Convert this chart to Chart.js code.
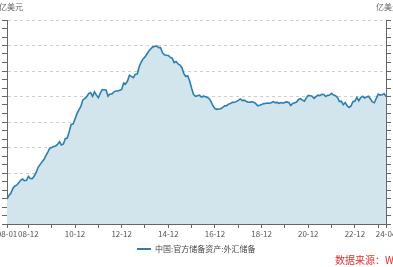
<!DOCTYPE html>
<html><head><meta charset="utf-8">
<script src="https://cdn.jsdelivr.net/npm/chart.js@4.4.1/dist/chart.umd.min.js"></script>
<style>html,body{margin:0;padding:0;background:#fff}#wrap{width:393px;height:267px;position:relative}</style>
</head><body><div id="wrap"><canvas id="c"></canvas></div>
<script>
const months = [];
for (let y = 2008; y <= 2024; y++) for (let m = 1; m <= 12; m++) { if (y === 2024 && m > 4) break; months.push(String(y % 100).padStart(2,'0') + '-' + String(m).padStart(2,'0')); }
const reserves = [
15898,16471,16822,17567,17970,18088,18452,18842,19056,18797,18847,19460,
19135,19121,19537,20089,20895,21316,21745,22108,22726,23283,23888,23992,
24152,24246,24471,24905,24395,24543,25384,25478,26483,27609,27678,28473,
29317,29914,30447,31462,31662,31975,32453,32626,32017,32738,32209,31811,
32536,33097,33050,32986,32061,32400,32400,32729,32851,32874,32970,33116,
34100,33954,34426,35345,35148,34967,35478,35530,36627,37366,37895,38213,
38664,39137,39481,39788,39840,39932,39663,39688,38877,38529,38474,38430,
38134,38015,37300,37481,37111,36938,36513,35574,35141,35255,34384,33304,
32309,32023,32126,32197,31917,32052,32011,31852,31664,31207,30516,30105,
29982,30051,30091,30295,30536,30568,30807,30915,31085,31092,31193,31399,
31615,31345,31428,31249,31106,31121,31179,31097,30870,30531,30617,30727,
30879,30902,30988,30950,31010,31192,31037,31072,30924,31052,30956,31079,
31155,31067,30606,30915,31017,31123,31544,31646,31426,31280,31785,32165,
32107,32049,31700,31982,32218,32140,32359,32321,32006,32176,32224,32502,
32216,32138,31880,31197,31278,30713,31041,30549,30290,30524,31175,31277,
31845,31332,31839,32048,31765,31930,32043,31601,31151,31012,31718,32380,
32193,32258,32457,32008
];
const xTickLabels = ['08-01','08-12','10-12','12-12','14-12','16-12','18-12','20-12','22-12','24-04'];
const seriesName = '中国:官方储备资产:外汇储备';
const unitText = '亿美元';
const sourceText = '数据来源：W';
const yMin = 12000, yMax = 44000, yStep = 4000;

const font = '"Noto Sans CJK SC", "Noto Sans", sans-serif';
const lineColor = '#2b7fb0';
const fillColor = 'rgba(210,228,236,1)';

function minorTicks(scale){
  const t=[]; for(let i=0;i<=24;i++){ t.push({value: yMin + i*yStep/3, major: i%3===0}); }
  scale.ticks = t;
}
const textPlugin = {
  id:'texts',
  afterDraw(chart){
    const ctx=chart.ctx, xs=chart.scales.x, ca=chart.chartArea;
    ctx.save();
    ctx.font='8px '+font; ctx.fillStyle='#555'; ctx.textAlign='center'; ctx.textBaseline='top';
    xTickLabels.forEach(l=>{ const i=months.indexOf(l); if(i>=0) ctx.fillText(l, xs.getPixelForValue(i), ca.bottom+6); });
    ctx.textAlign='left'; ctx.textBaseline='middle'; ctx.fillStyle='#666';
    ctx.fillText(unitText, -1, 7);
    ctx.fillText(unitText, 376, 7);
    // legend
    ctx.strokeStyle=lineColor; ctx.lineWidth=2; ctx.beginPath(); ctx.moveTo(137,249); ctx.lineTo(151,249); ctx.stroke();
    ctx.fillStyle='#444'; ctx.fillText(seriesName, 155, 249);
    ctx.font='10px '+font; ctx.fillStyle='#e0302e'; ctx.textBaseline='alphabetic';
    ctx.fillText(sourceText, 335, 264);
    ctx.restore();
  }
};
new Chart(document.getElementById('c'), {
  type:'line',
  data:{labels:months, datasets:[{label:seriesName, data:reserves, borderColor:lineColor, borderWidth:1.6, backgroundColor:fillColor, fill:'start', pointRadius:0, tension:0}]},
  options:{
    responsive:true, maintainAspectRatio:false, animation:false,
    layout:{padding:{left:2,right:2,top:20,bottom:39}},
    plugins:{legend:{display:false}, tooltip:{enabled:false}},
    scales:{
      x:{type:'category', offset:false,
        grid:{drawOnChartArea:false, tickLength:4, tickWidth:1,
          tickColor:(c)=>{ const l=months[c.index]; return (l && (l.endsWith('-12') || c.index===0 || c.index===months.length-1)) ? '#666' : 'rgba(0,0,0,0)'; }},
        border:{color:'#666'},
        ticks:{display:false, autoSkip:false}},
      y:{position:'left', min:yMin, max:yMax, afterBuildTicks:minorTicks,
        grid:{tickLength:5, color:(c)=> (c.tick && c.tick.major && c.tick.value>yMin) ? '#cfcfcf' : 'rgba(0,0,0,0)', tickColor:'#666'},
        border:{color:'#666', dash:[3,3], display:true},
        ticks:{display:false}},
      y2:{position:'right', min:yMin, max:yMax, afterBuildTicks:minorTicks,
        grid:{drawOnChartArea:false, tickLength:5, tickColor:'#666'},
        border:{color:'#666'},
        ticks:{display:false}}
    }
  },
  plugins:[textPlugin]
});
</script></body></html>
